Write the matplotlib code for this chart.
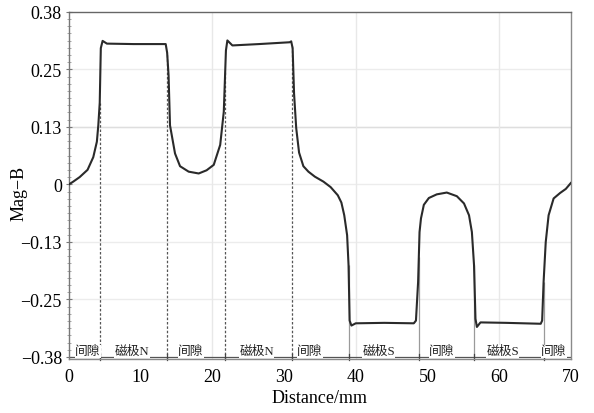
import numpy as np
import matplotlib
matplotlib.use('Agg')
import matplotlib.pyplot as plt
from matplotlib.ticker import AutoMinorLocator, FixedLocator

# Mag-B along the distance
dist = [0, 0.6, 1.5, 2.6, 3.4, 3.9, 4.1, 4.3, 4.45, 4.7, 5.3, 9.0, 13.5,
        13.7, 13.9, 14.1, 14.8, 15.5, 16.7, 18.1, 19.2, 20.2, 21.1, 21.6,
        21.9, 22.1, 22.8, 26.5, 30.8, 31.0, 31.2, 31.4, 31.7, 32.1, 32.7,
        33.4, 34.3, 35.5, 36.5, 37.5, 38.0, 38.4, 38.8, 39.0, 39.15, 39.4,
        40.0, 44.0, 48.1, 48.4, 48.7, 48.9, 49.1, 49.5, 50.2, 51.3, 52.7,
        54.1, 55.1, 55.8, 56.2, 56.5, 56.7, 56.9, 57.4, 61.0, 65.8, 66.0,
        66.2, 66.5, 66.9, 67.6, 68.5, 69.3, 70]
magb = [0.0, 0.006, 0.016, 0.032, 0.060, 0.094, 0.130, 0.18, 0.30, 0.316,
        0.310, 0.309, 0.309, 0.29, 0.24, 0.13, 0.068, 0.040, 0.028, 0.024,
        0.031, 0.043, 0.087, 0.160, 0.295, 0.317, 0.306, 0.309, 0.313,
        0.315, 0.30, 0.20, 0.124, 0.070, 0.040, 0.028, 0.017, 0.006,
        -0.006, -0.024, -0.040, -0.068, -0.112, -0.178, -0.30, -0.311,
        -0.306, -0.305, -0.306, -0.30, -0.215, -0.105, -0.075, -0.045,
        -0.030, -0.022, -0.018, -0.026, -0.042, -0.068, -0.105, -0.178,
        -0.296, -0.314, -0.304, -0.305, -0.307, -0.30, -0.215, -0.127,
        -0.068, -0.031, -0.019, -0.010, 0.003]

# pole / gap boundaries and strip labels
bounds_n = [4.3, 13.7, 21.8, 31.1]
bounds_s = [39.0, 48.8, 56.5, 66.2]
zone_labels = ['间隙', '磁极N', '间隙', '磁极N', '间隙', '磁极S', '间隙', '磁极S', '间隙']
zone_pos = [2.6, 8.8, 17.0, 26.2, 33.6, 43.2, 52.0, 60.5, 67.6]

yticks = np.linspace(-0.38, 0.38, 7)
ytick_labels = ['\u22120.38', '\u22120.25', '\u22120.13', '0', '0.13', '0.25', '0.38']

serif = ['Liberation Serif', 'Noto Sans CJK SC']
plt.rcParams['font.family'] = serif
plt.rcParams['axes.unicode_minus'] = True

fig = plt.figure(figsize=(5.94, 4.14), dpi=100)
ax = fig.add_axes([0.116, 0.130, 0.845, 0.839])

ymin, ymax = -0.385, 0.38
ax.set_xlim(0, 70)
ax.set_ylim(ymin, ymax)

# faint grid
for yv in yticks[1:-1]:
    ax.axhline(yv, color='#ececec', lw=1.0, zorder=0)
ax.axhline(yticks[4], color='#dedede', lw=1.0, zorder=0)
for xv in [20, 40, 60]:
    ax.axvline(xv, color='#e8e8e8', lw=1.0, zorder=0)

# boundary lines from the bottom up to the curve
for b in bounds_n:
    ax.vlines(b, ymin, np.interp(b, dist, magb), colors='#555555',
              linestyles=(0, (2, 1.5)), lw=0.9, zorder=1)
for b in bounds_s:
    ax.vlines(b, ymin, np.interp(b, dist, magb), colors='#9a9a9a',
              lw=0.9, zorder=1)

ax.plot(dist, magb, color='#2a2a2a', lw=1.5, zorder=3)

# strip along the bottom
ax.axhline(-0.381, color='#555555', lw=0.9, zorder=2)
for b in bounds_n + bounds_s:
    ax.plot([b, b], [-0.374, -0.386], color='#444444', lw=0.9, zorder=2,
            clip_on=False)
for lab, xp in zip(zone_labels, zone_pos):
    ax.text(xp, -0.368, lab, ha='center', va='center', fontsize=9.2,
            family=serif, color='#222222', zorder=4,
            bbox=dict(facecolor='white', edgecolor='none', pad=0.2))

ax.yaxis.set_major_locator(FixedLocator(yticks))
ax.set_yticklabels(ytick_labels)
ax.yaxis.set_minor_locator(AutoMinorLocator(8))
ax.set_xticks([0, 10, 20, 30, 40, 50, 60, 70])
ax.tick_params(axis='both', which='major', labelsize=13, direction='inout',
               length=4, color='#777777', pad=3)
ax.tick_params(axis='y', which='minor', direction='inout', length=3,
               color='#999999')
ax.tick_params(axis='x', which='major', length=0, pad=6)

for sp in ax.spines.values():
    sp.set_color('#8a8a8a')
    sp.set_linewidth(1.0)
ax.spines['top'].set_color('#666666')
ax.spines['left'].set_color('#777777')

ax.set_xlabel('Distance/mm', fontsize=13, labelpad=3)
ax.set_ylabel('Mag\u2212B', fontsize=13)
ax.yaxis.set_label_coords(-0.082, 0.48)

fig.savefig('out.png', dpi=100)
